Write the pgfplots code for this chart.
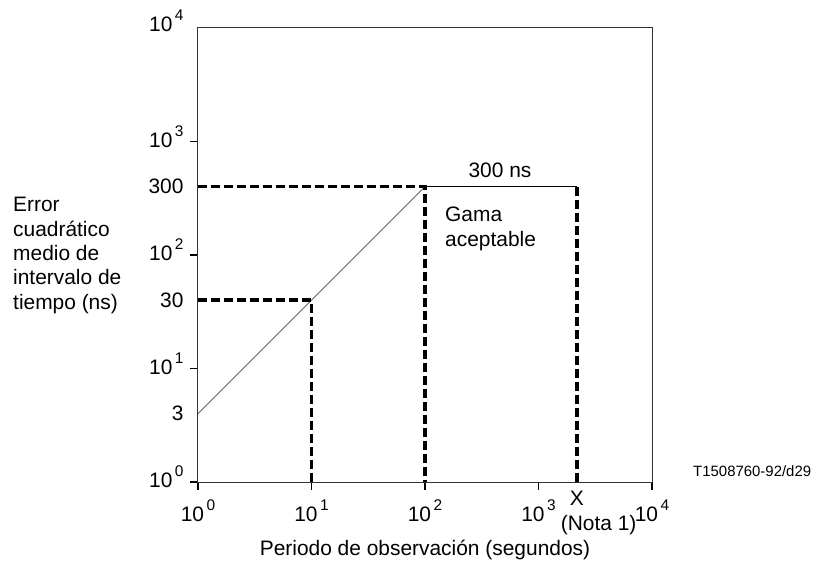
\documentclass[border=0pt]{standalone}
\usepackage{fontspec}
\setmainfont{Liberation Sans}
\usepackage{pgfplots}
\pgfplotsset{compat=1.18}
\newcommand\fs{\fontsize{21}{24.5}\selectfont}
\newcommand\tp[1]{10\kern2.5bp\raisebox{0.52em}{\fontsize{15.5}{15.5}\selectfont #1}}
\begin{document}
\begin{tikzpicture}
\path[use as bounding box] (-198bp,-79bp) rectangle (616bp,482bp);
\begin{axis}[
 at={(0,0)}, anchor=south west,
 scale only axis, width=454bp, height=454bp,
 xmode=log, ymode=log, xmin=1, xmax=10000, ymin=1, ymax=10000,
 xminorticks=false, yminorticks=false,
 clip=false,
 axis line style={black!80, line width=1bp},
 tick align=outside, tick pos=left, major tick length=8bp,
 tick style={black, line width=1.3bp},
 xtick={1,10,100,1000,10000},
 xticklabels={\tp{0},\tp{1},\tp{2},\tp{3},\tp{4}},
 ytick={1,10,100,1000},
 yticklabels={\tp{0},\tp{1},\tp{2},\tp{3}},
 extra y ticks={4,40,400,10000},
 extra y tick labels={3,30,300,\raisebox{14bp}{\tp{4}}},
 extra y tick style={tick style={draw=none}, yticklabel style={yshift=-5bp}},
 extra x ticks={2180},
 extra x tick labels={X\\\makebox[0pt][l]{\hspace*{-16bp}(Nota 1)}},
 extra x tick style={tick style={draw=none}, xticklabel style={align=center, yshift=8bp}},
 tick label style={font=\fs},
 xticklabel style={yshift=-6bp},
 yticklabel style={xshift=-3bp, yshift=5bp},
]
\addplot[black!70, line width=0.8bp] coordinates {(1,4) (100,400)};
\addplot[black, line width=1.2bp] coordinates {(100,400) (2180,400)};
\addplot[black, line width=3.6bp, dash pattern=on 9bp off 4bp] coordinates {(1,400) (100,400) (100,1)};
\addplot[black, line width=3.6bp, dash pattern=on 9bp off 4bp] coordinates {(1,40) (10,40) (10,1)};
\addplot[black, line width=3.6bp, dash pattern=on 9bp off 4bp] coordinates {(2180,400) (2180,1)};
\end{axis}
\node[anchor=north west, align=left, inner sep=0pt, font=\fs] at (-185bp,285bp) {Error\\cuadrático\\medio de\\intervalo de\\tiempo (ns)};
\node[anchor=base, inner sep=0pt, font=\fs] at (227bp,-73bp) {Periodo de observación (segundos)};
\node[anchor=north west, align=left, inner sep=0pt, font=\fs] at (247bp,275bp) {Gama\\aceptable};
\node[anchor=base, inner sep=0pt, font=\fs] at (302bp,304bp) {300 ns};
\node[anchor=base west, inner sep=0pt, font=\fontsize{15}{18}\selectfont] at (495bp,6bp) {T1508760-92/d29};
\end{tikzpicture}
\end{document}
